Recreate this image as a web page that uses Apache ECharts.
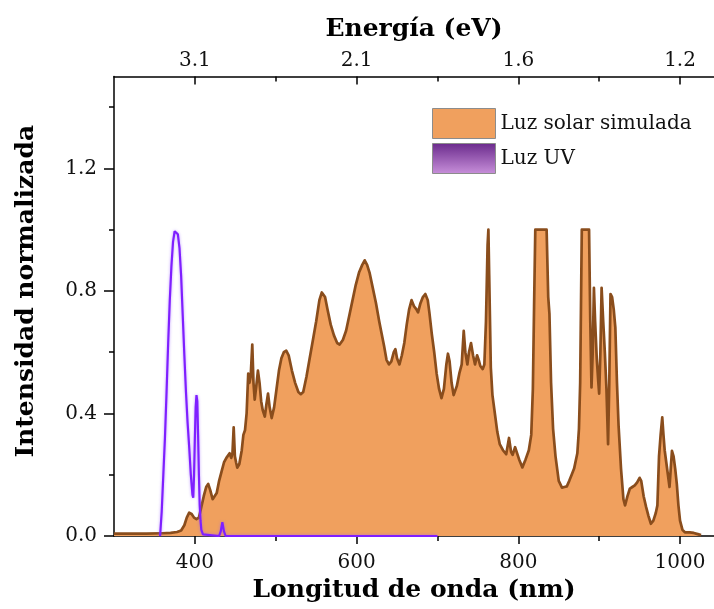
<!DOCTYPE html>
<html>
<head>
<meta charset="utf-8">
<script src="https://cdn.jsdelivr.net/npm/echarts@6/dist/echarts.min.js"></script>
<style>
  html, body { margin: 0; padding: 0; background: #fff; }
  #chart { width: 714px; height: 609px; }
</style>
</head>
<body>
<div id="chart"></div>
<script>
// Simulated solar lamp spectrum (wavelength in nm, normalized intensity)
const solarWavelength = [
  300, 320, 340, 360, 370, 378, 383, 387, 390, 393, 396, 399, 402, 405, 408, 411, 414, 416.5, 419, 422,
  424, 427, 430, 433, 436, 439, 441, 443, 445, 446.5, 448, 449.5, 451, 452.5, 455, 458, 460, 462, 464, 466,
  467.5, 469, 471, 472.5, 474, 476, 478, 480, 482, 484, 486.5, 488.5, 490.5, 492.5, 495, 498, 501, 504, 507, 510,
  513, 516, 520, 524, 528, 531, 534, 538, 542, 546, 550, 554, 557, 559, 561, 564, 568, 572, 576, 579,
  583, 587, 591, 595, 599, 603, 607, 610, 613, 616, 620, 624, 628, 631, 634, 637, 640, 643, 646, 648,
  650, 653, 656, 659, 662, 665, 668, 671, 674, 676, 679, 682, 685, 688, 690, 693, 696, 699, 702, 705,
  708, 711, 713, 715, 717.5, 720, 722, 724, 727, 730, 732.5, 734.5, 737, 739, 741.5, 744, 746.5, 749, 751, 753,
  756, 758, 760, 762, 763, 764, 766, 768, 771, 774, 777, 781, 785, 788.5, 791, 793, 796, 798, 801, 805,
  809, 813, 816, 818, 819.5, 821, 835, 837, 838.5, 840.5, 843, 846, 850, 854, 857, 860, 863, 866, 869, 873,
  875, 876.5, 877.5, 878.5, 887.5, 889, 890.5, 892, 893.5, 895, 897, 899, 900, 901.5, 903, 905, 907, 909, 911, 912.5,
  914, 916, 918, 920, 922, 924, 927, 930, 932, 935, 938, 941, 944, 947, 950, 952, 955, 958, 961, 964,
  967, 970, 972, 974, 976, 978, 979.5, 981, 983, 985, 987, 988.5, 990, 992, 994, 996, 998, 1000, 1003, 1006,
  1012, 1017, 1022, 1026
];
const solarIntensity = [
  0.008, 0.008, 0.008, 0.009, 0.010, 0.013, 0.018, 0.035, 0.060, 0.076, 0.072, 0.060, 0.055, 0.060, 0.095, 0.130, 0.160, 0.170, 0.150, 0.120,
  0.118, 0.140, 0.180, 0.210, 0.240, 0.255, 0.260, 0.270, 0.255, 0.270, 0.355, 0.260, 0.240, 0.223, 0.235, 0.280, 0.330, 0.345, 0.400, 0.530,
  0.500, 0.520, 0.625, 0.500, 0.445, 0.490, 0.540, 0.500, 0.440, 0.410, 0.390, 0.430, 0.465, 0.420, 0.385, 0.420, 0.480, 0.540, 0.580, 0.600,
  0.605, 0.590, 0.540, 0.500, 0.470, 0.463, 0.470, 0.520, 0.580, 0.640, 0.700, 0.770, 0.795, 0.800, 0.780, 0.740, 0.690, 0.655, 0.630, 0.625,
  0.640, 0.670, 0.720, 0.770, 0.820, 0.860, 0.885, 0.900, 0.885, 0.860, 0.810, 0.760, 0.700, 0.660, 0.620, 0.575, 0.560, 0.570, 0.600, 0.610,
  0.580, 0.560, 0.590, 0.630, 0.690, 0.740, 0.770, 0.750, 0.740, 0.730, 0.760, 0.780, 0.790, 0.770, 0.730, 0.660, 0.600, 0.530, 0.480, 0.450,
  0.480, 0.560, 0.595, 0.570, 0.500, 0.460, 0.458, 0.490, 0.530, 0.560, 0.670, 0.600, 0.560, 0.600, 0.630, 0.590, 0.560, 0.590, 0.575, 0.555,
  0.545, 0.560, 0.700, 0.950, 1.000, 0.850, 0.550, 0.460, 0.400, 0.340, 0.300, 0.280, 0.267, 0.320, 0.275, 0.265, 0.290, 0.284, 0.250, 0.224,
  0.250, 0.280, 0.330, 0.480, 0.750, 1.000, 1.000, 0.780, 0.725, 0.500, 0.350, 0.260, 0.180, 0.158, 0.160, 0.162, 0.180, 0.200, 0.220, 0.270,
  0.350, 0.500, 0.750, 1.000, 1.000, 0.700, 0.485, 0.600, 0.810, 0.700, 0.580, 0.500, 0.465, 0.600, 0.810, 0.700, 0.600, 0.480, 0.300, 0.500,
  0.790, 0.780, 0.740, 0.680, 0.500, 0.360, 0.220, 0.120, 0.100, 0.130, 0.155, 0.160, 0.165, 0.175, 0.190, 0.180, 0.130, 0.095, 0.065, 0.040,
  0.050, 0.075, 0.100, 0.260, 0.330, 0.387, 0.330, 0.280, 0.240, 0.200, 0.160, 0.220, 0.278, 0.260, 0.220, 0.170, 0.100, 0.050, 0.020, 0.012,
  0.012, 0.010, 0.006, 0.003
];

// UV lamp emission (wavelength in nm, normalized intensity)
const uvWavelength = [
  357, 359, 361, 363, 365, 367, 369, 371, 373, 375, 377, 379, 381, 383, 385, 387, 389, 391, 393, 395,
  397, 398, 399, 400, 401, 402, 403, 404, 405, 406, 407, 408, 410, 412, 430, 432, 434, 436, 438, 700
];
const uvIntensity = [
  0.000, 0.080, 0.200, 0.320, 0.470, 0.630, 0.770, 0.880, 0.960, 0.995, 1.000, 0.985, 0.940, 0.850, 0.720, 0.590, 0.470, 0.370, 0.290, 0.200,
  0.135, 0.125, 0.200, 0.320, 0.420, 0.460, 0.440, 0.330, 0.200, 0.100, 0.050, 0.020, 0.005, 0.000, 0.000, 0.015, 0.045, 0.015, 0.000, 0.000
];

// Axis ticks and labels
const wavelengthMajorTicks = [400, 600, 800, 1000];
const wavelengthMinorTicks = [500, 700, 900];
const energyLabels = ['3.1', '2.1', '1.6', '1.2'];
const intensityMajorTicks = [0, 0.4, 0.8, 1.2];
const intensityMinorTicks = [0.2, 0.6, 1.0, 1.4];

const seriesNames = ['Luz solar simulada', 'Luz UV'];

const FONT = 'DejaVu Serif';
const ORANGE = '#f0a05e';
const BROWN = '#8a4d1c';
const VIOLET = '#7f1fff';

const zip = (xs, ys) => xs.map((x, i) => [x, ys[i]]);

const X_MIN = 300, X_MAX = 1042, Y_MIN = 0, Y_MAX = 1.5;
const gridBox = { left: 114, right: 0, top: 76.5, bottom: 73, containLabel: false, outerBoundsMode: 'none' };

const axisLine = { show: true, lineStyle: { color: '#000', width: 1.5 } };
const tickLine = { color: '#000', width: 1.5 };
const noLabel = { show: false };
const noSplit = { show: false };
const titleText = { fontFamily: FONT, fontWeight: 'bold', fontSize: 25, color: '#000' };
const tickText = { fontFamily: FONT, fontSize: 20, color: '#111' };

const chart = echarts.init(document.getElementById('chart'), null, { renderer: 'canvas' });

chart.setOption({
  animation: false,
  backgroundColor: '#fff',
  grid: [Object.assign({}, gridBox), Object.assign({}, gridBox)],
  legend: {
    orient: 'vertical',
    left: 432,
    top: 108,
    padding: 0,
    itemWidth: 63,
    itemHeight: 30,
    itemGap: 4,
    selectedMode: false,
    textStyle: { fontFamily: FONT, fontSize: 20, color: '#111' },
    data: [
      {
        name: seriesNames[0], icon: 'rect',
        itemStyle: { color: ORANGE, borderColor: '#8c8c8c', borderWidth: 1 }
      },
      {
        name: seriesNames[1], icon: 'rect',
        itemStyle: {
          color: new echarts.graphic.LinearGradient(0, 0, 0, 1, [
            { offset: 0, color: '#6a2a8c' },
            { offset: 1, color: '#c890da' }
          ]),
          borderColor: '#8c8c8c', borderWidth: 1
        }
      }
    ]
  },
  xAxis: [
    {
      // wavelength, bottom
      type: 'value', gridIndex: 0, position: 'bottom',
      min: X_MIN, max: X_MAX, interval: 100,
      name: 'Longitud de onda (nm)', nameLocation: 'middle', nameGap: 42,
      nameTextStyle: titleText,
      axisLine: axisLine,
      axisTick: { show: true, inside: false, length: 8, customValues: wavelengthMajorTicks, lineStyle: tickLine },
      axisLabel: Object.assign({ show: true, margin: 17, customValues: wavelengthMajorTicks, formatter: v => String(v) }, tickText),
      splitLine: noSplit
    },
    {
      // photon energy, top
      type: 'value', gridIndex: 0, position: 'top',
      min: X_MIN, max: X_MAX, interval: 100,
      name: 'Energía (eV)', nameLocation: 'middle', nameGap: 35,
      nameTextStyle: titleText,
      axisLine: axisLine,
      axisTick: { show: true, inside: true, length: 8, customValues: wavelengthMajorTicks, lineStyle: tickLine },
      axisLabel: Object.assign({
        show: true, margin: 6, customValues: wavelengthMajorTicks,
        formatter: v => energyLabels[wavelengthMajorTicks.indexOf(v)] || ''
      }, tickText),
      splitLine: noSplit
    },
    {
      // minor ticks, bottom
      type: 'value', gridIndex: 1, position: 'bottom',
      min: X_MIN, max: X_MAX, interval: 100,
      axisLine: { show: false },
      axisTick: { show: true, inside: false, length: 5, customValues: wavelengthMinorTicks, lineStyle: tickLine },
      axisLabel: noLabel, splitLine: noSplit
    },
    {
      // minor ticks, top
      type: 'value', gridIndex: 1, position: 'top',
      min: X_MIN, max: X_MAX, interval: 100,
      axisLine: { show: false },
      axisTick: { show: true, inside: true, length: 5, customValues: wavelengthMinorTicks, lineStyle: tickLine },
      axisLabel: noLabel, splitLine: noSplit
    }
  ],
  yAxis: [
    {
      type: 'value', gridIndex: 0, position: 'left',
      min: Y_MIN, max: Y_MAX, interval: 0.4,
      name: 'Intensidad normalizada', nameLocation: 'middle', nameGap: 75,
      nameTextStyle: Object.assign({ padding: [0, 0, 0, 30] }, titleText),
      axisLine: axisLine,
      axisTick: { show: true, inside: false, length: 10, customValues: intensityMajorTicks, lineStyle: tickLine },
      axisLabel: Object.assign({
        show: true, margin: 17, customValues: intensityMajorTicks,
        formatter: v => v.toFixed(1)
      }, tickText),
      splitLine: noSplit
    },
    {
      type: 'value', gridIndex: 1, position: 'left',
      min: Y_MIN, max: Y_MAX, interval: 0.4,
      axisLine: { show: false },
      axisTick: { show: true, inside: false, length: 5, customValues: intensityMinorTicks, lineStyle: tickLine },
      axisLabel: noLabel, splitLine: noSplit
    }
  ],
  series: [
    {
      name: seriesNames[0],
      type: 'line',
      xAxisIndex: 0, yAxisIndex: 0,
      data: zip(solarWavelength, solarIntensity),
      showSymbol: false, symbol: 'none',
      lineStyle: { color: BROWN, width: 2.7, join: 'round' },
      itemStyle: { color: ORANGE },
      areaStyle: { color: ORANGE, opacity: 1 },
      z: 2
    },
    {
      name: seriesNames[1],
      type: 'line',
      xAxisIndex: 0, yAxisIndex: 0,
      data: zip(uvWavelength, uvIntensity),
      showSymbol: false, symbol: 'none',
      lineStyle: { color: VIOLET, width: 2.2, shadowBlur: 3, shadowColor: 'rgba(150,90,255,0.6)' },
      itemStyle: { color: '#9a5cc4' },
      z: 3
    }
  ]
});
</script>
</body>
</html>
